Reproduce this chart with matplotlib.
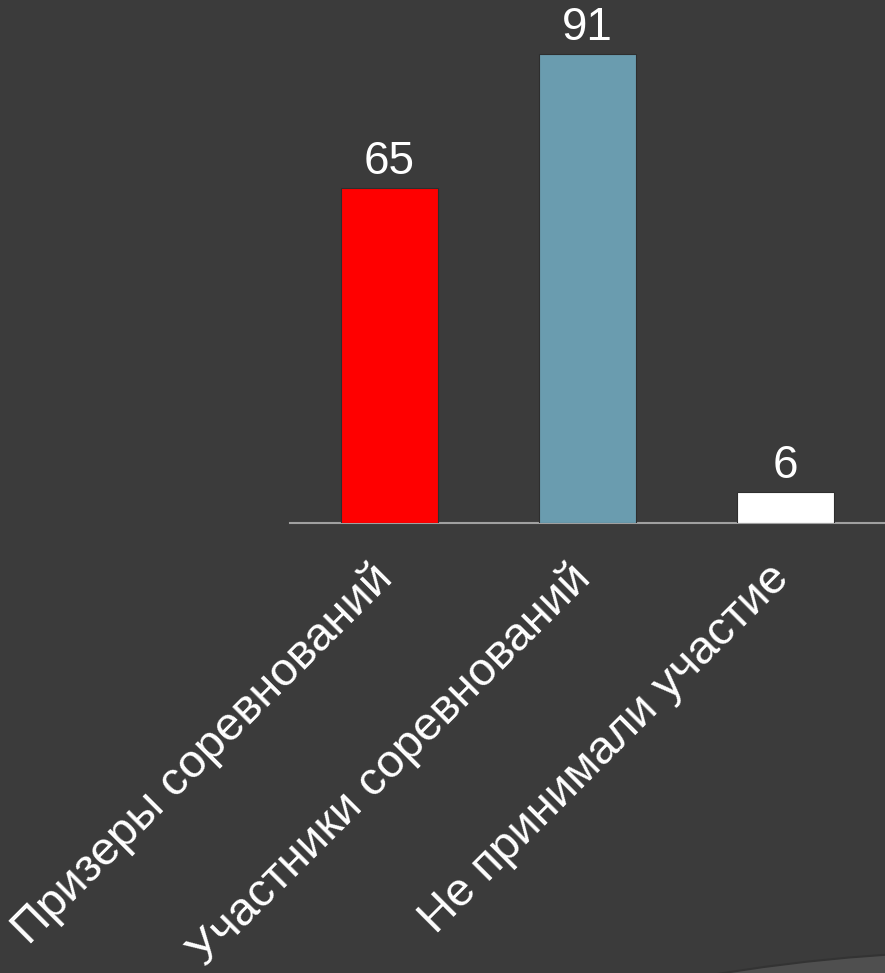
import matplotlib.pyplot as plt
import matplotlib.transforms as mtransforms
from matplotlib.patches import Circle

categories = ["Призеры соревнований", "Участники соревнований", "Не принимали участие"]
values = [65, 91, 6]
colors = ["#ff0000", "#6a9caf", "#ffffff"]

bg = "#3b3b3b"
plt.rcParams['font.family'] = ['Liberation Sans', 'DejaVu Sans']

fig = plt.figure(figsize=(8.85, 9.73), dpi=100, facecolor=bg)

# светлая дуга в правом нижнем углу (оформление слайда)
fig.patches.append(Circle((1000, 973 - 2697), 1746, transform=None,
                          facecolor="#4f4f4f", edgecolor="#333333", linewidth=1.5, zorder=0))

ax = fig.add_axes([290 / 885, 1 - 523 / 973, 1 - 290 / 885, (523 - 7.6) / 973])
ax.set_facecolor("none")

x = range(len(categories))
bars = ax.bar(x, values, width=0.49, color=colors, edgecolor="#2e2e2e", linewidth=0.8, zorder=3)

for b, v in zip(bars, values):
    ax.text(b.get_x() + b.get_width() / 2, v + 0.7, str(v), ha="center", va="bottom",
            fontsize=33, color="white", clip_on=False)

# подписи категорий под углом 45°
offset = mtransforms.ScaledTranslation(12 / 100, -33 / 100, fig.dpi_scale_trans)
for i, name in zip(x, categories):
    ax.text(i, 0, name, rotation=45, ha="right", va="top", fontsize=34, color="white",
            transform=ax.transData + offset, clip_on=False)

ax.set_xlim(-0.5, 2.5)
ax.set_ylim(0, 100)
ax.set_xticks([])
ax.set_yticks([])
for s in ["top", "right", "left"]:
    ax.spines[s].set_visible(False)
ax.spines["bottom"].set_color("#a0a0a0")
ax.spines["bottom"].set_linewidth(1.5)

fig.savefig("out.png", dpi=100, facecolor=bg)
